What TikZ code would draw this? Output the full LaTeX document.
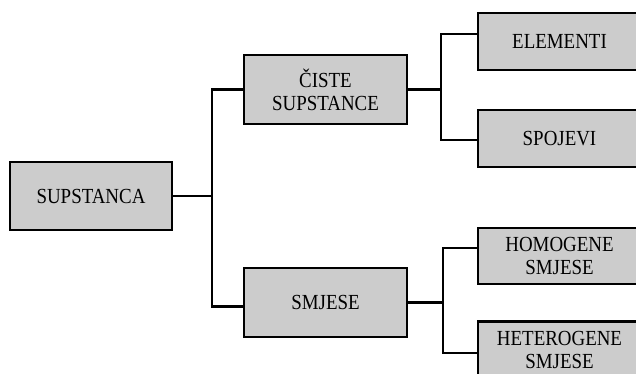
\documentclass[tikz,border=0pt]{standalone}
\usepackage{fontspec}
\setmainfont{Liberation Serif}[FakeStretch=0.88]
\usetikzlibrary{calc}
\definecolor{boxgray}{HTML}{CCCCCC}
\begin{document}
\begin{tikzpicture}[x=1pt,y=-1pt,
  box/.style={draw=black, fill=boxgray, line width=2.4pt, rectangle,
    minimum width=163pt, inner sep=0pt, align=center,
    font=\fontsize{21.5}{23}\selectfont},
  tall/.style={box, minimum height=69pt},
  short/.style={box, minimum height=57pt},
  link/.style={draw=black, line width=2.2pt}]
\useasboundingbox (0,0) rectangle (636,374);
\clip (0,0) rectangle (636,374);

% root
\node[tall, minimum width=162pt, minimum height=68pt] (sup) at (91,196) {SUPSTANCA};
% second level
\node[tall] (cis) at (325.5,89.5) {ČISTE\\SUPSTANCE};
\node[tall] (smj) at (325.5,302.5) {SMJESE};
% third level (running off the right edge)
\node[short] (ele) at (559.5,41.5) {ELEMENTI};
\node[short] (spo) at (559.5,138.5) {SPOJEVI};
\node[short, minimum height=56pt] (hom) at (559.5,256) {HOMOGENE\\SMJESE};
\node[short] (het) at (559.5,350) {HETEROGENE\\SMJESE};

% root to second level
\coordinate (j1) at (212,196);
\draw[link] (sup.east) -- (j1);
\draw[link] (cis.west) -| (j1) |- ($(smj.west)+(0,4)$);

% pure substances branch
\coordinate (j2) at (441,89.5);
\draw[link] (cis.east) -- (j2);
\draw[link] ($(ele.west)+(0,-7.5)$) -| (j2) |- ($(spo.west)+(0,1.5)$);

% mixtures branch
\coordinate (j3) at (443,302.5);
\draw[link] (smj.east) -- (j3);
\draw[link] ($(hom.west)+(0,-8)$) -| (j3) |- ($(het.west)+(0,3)$);
\end{tikzpicture}
\end{document}
